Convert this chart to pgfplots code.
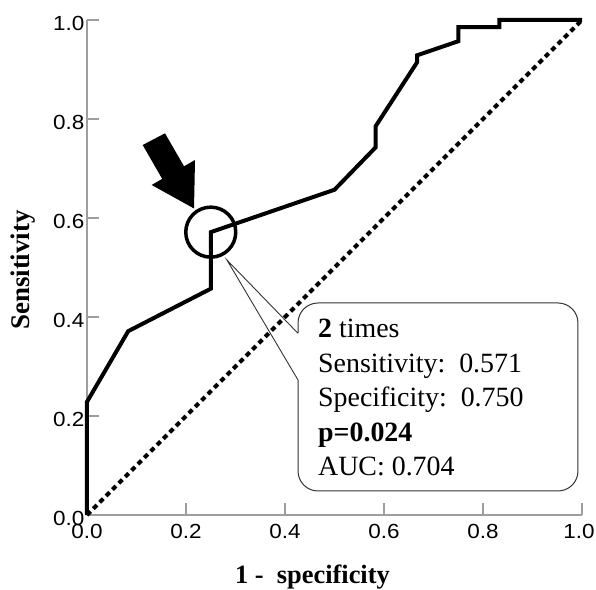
\documentclass[border=0pt]{standalone}
\usepackage{fontspec}
\setmainfont{Liberation Serif}
\newfontfamily\arialf[FakeStretch=1.1]{Liberation Sans}
\usepackage{pgfplots}
\pgfplotsset{compat=1.18}
\begin{document}
\begin{tikzpicture}
\begin{axis}[
  name=ax,
  scale only axis,
  width=495bp, height=495bp,
  xmin=0, xmax=1, ymin=0, ymax=1,
  axis x line=bottom, axis y line=left,
  axis line style={-, draw=black!38, line width=1.5bp},
  tick style={draw=black!38, line width=1.5bp},
  major tick length=12bp,
  tick align=inside,
  xtick={0,0.2,0.4,0.6,0.8,1.0},
  xticklabels={0.0,0.2,0.4,0.6,0.8,\hspace*{-6bp}1.0},
  ytick={0,0.2,0.4,0.6,0.8,1.0},
  /pgf/number format/assume math mode=true,
  /pgf/number format/.cd, fixed, fixed zerofill, precision=1, /pgfplots/.cd,
  ticklabel style={font=\arialf\fontsize{20.5}{24}\selectfont, text=black},
  xticklabel style={yshift=-6bp},
  yticklabel style={yshift=-3bp, xshift=1bp},
  clip=false,
]
% chance line
\addplot[black, line width=4bp, dash pattern=on 5bp off 4bp] coordinates {(0,0) (1,1)};
% ROC curve
\addplot[black, line width=4bp, line join=miter] coordinates {
(0,0) (0,0.2286) (0.0833,0.3714) (0.25,0.4571) (0.25,0.5714) (0.5,0.6571)
(0.5833,0.7429) (0.5833,0.7857) (0.6667,0.9143) (0.6667,0.9286) (0.75,0.9571)
(0.75,0.9857) (0.8333,0.9857) (0.8333,1) (1,1)};
% circle
\draw[black, line width=3.5bp] (axis cs:0.25,0.5714) circle[radius=25bp];
% arrow
\fill[black] (axis cs:0.1125,0.7475) -- (axis cs:0.1519,0.6790) -- (axis cs:0.1307,0.6667)
  -- (axis cs:0.2162,0.6192) -- (axis cs:0.2182,0.7172) -- (axis cs:0.1960,0.7044)
  -- (axis cs:0.1576,0.7711) -- cycle;
% callout
\draw[black!80, line width=1bp, fill=white, rounded corners=20bp]
  (axis cs:0.4263,0.0485) rectangle (axis cs:0.9919,0.4283);
\fill[white] (axis cs:0.420,0.2727) rectangle (axis cs:0.432,0.367);
\draw[black!80, line width=0.9bp] (axis cs:0.4263,0.367) -- (axis cs:0.2828,0.515) -- (axis cs:0.4263,0.2727);
\begin{scope}[every node/.style={anchor=base west, inner sep=0pt, font=\fontsize{28}{34}\selectfont}]
\node at (axis cs:0.4667,0.3576) {\textbf{2} times};
\node at (axis cs:0.4667,0.2869) {Sensitivity:\ \ 0.571};
\node at (axis cs:0.4667,0.2182) {Specificity:\ \ 0.750};
\node at (axis cs:0.4667,0.1475) {\textbf{p=0.024}};
\node at (axis cs:0.4667,0.0808) {AUC: 0.704};
\end{scope}
% axis labels
\node[anchor=base, inner sep=0pt, font=\bfseries\fontsize{26.5}{32}\selectfont] at (axis description cs:0.4555,-0.1374) {1 -\ \ specificity};
\node[anchor=base, rotate=90, inner sep=0pt, font=\bfseries\fontsize{27}{32}\selectfont] at (axis description cs:-0.117,0.495) {Sensitivity};
\end{axis}
\pgfresetboundingbox
\path (ax.south west) ++(-87bp,-75bp) rectangle ++(596bp,590bp);
\end{tikzpicture}
\end{document}
